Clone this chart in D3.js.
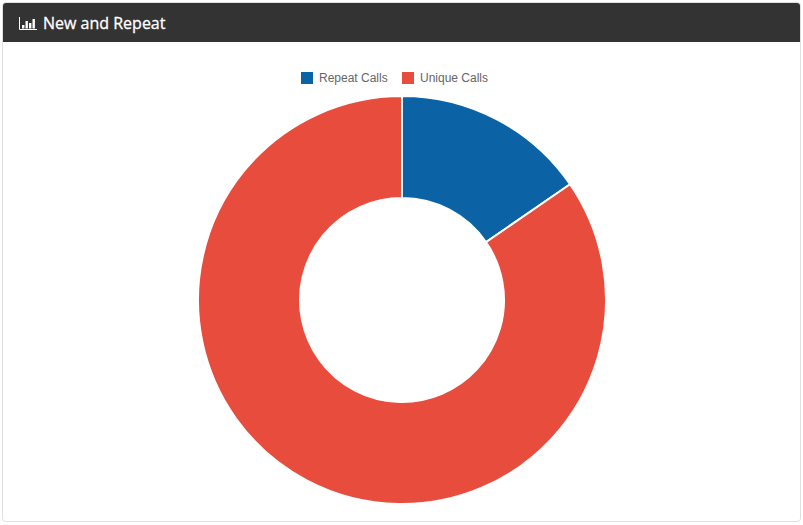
<!DOCTYPE html>
<html>
<head>
<meta charset="utf-8">
<script src="https://cdn.jsdelivr.net/npm/d3@7"></script>
<style>
  html, body { margin: 0; padding: 0; background: #fff; }
  svg { display: block; }
</style>
</head>
<body>
<svg id="chart" width="803" height="525"></svg>
<script>
const categories = ["Repeat Calls", "Unique Calls"];
const callCounts = [154, 846];
const sliceColors = ["#0b62a4", "#e84c3c"];
const panelTitle = "New and Repeat";

const svg = d3.select("#chart");

// Panel frame and dark heading
svg.append("rect").attr("x", 2.5).attr("y", 2.5).attr("width", 798).attr("height", 519)
  .attr("rx", 3).attr("fill", "#fff").attr("stroke", "#e0e0e0");
svg.append("path").attr("d", "M3 42V6a3 3 0 0 1 3-3H797a3 3 0 0 1 3 3V42Z").attr("fill", "#333333");

// Bar-chart glyph beside the heading
const glyph = svg.append("g").attr("fill", "#fff");
glyph.append("path").attr("d", "M19.5 17V29.5H37").attr("fill", "none").attr("stroke", "#fff");
[[22, 25, 3], [25.5, 21, 7], [29, 23, 5], [32.5, 19, 9]].forEach(([x, y, h]) =>
  glyph.append("rect").attr("x", x).attr("y", y).attr("width", 2.4).attr("height", h + 0.5));

svg.append("text").attr("x", 43).attr("y", 28.5).text(panelTitle)
  .attr("font-family", "'Open Sans', sans-serif").attr("font-size", 16).attr("font-weight", 400)
  .attr("fill", "#fff").attr("stroke", "#fff").attr("stroke-width", 0.3);

// Legend
const legendX = d3.scaleOrdinal().domain(categories).range([301, 402]);
const legend = svg.append("g").selectAll("g").data(categories).join("g")
  .attr("transform", d => `translate(${legendX(d)},72)`);
legend.append("rect").attr("width", 12).attr("height", 12)
  .attr("fill", (d, i) => sliceColors[i]);
legend.append("text").attr("x", 18).attr("y", 10).text(d => d)
  .attr("font-family", "'Liberation Sans', Arial, sans-serif").attr("font-size", 12)
  .attr("fill", "#666");

// Doughnut
const pie = d3.pie().sort(null);
const arc = d3.arc().innerRadius(102).outerRadius(204);
svg.append("g").attr("transform", "translate(402,300)")
  .selectAll("path").data(pie(callCounts)).join("path")
  .attr("d", arc)
  .attr("fill", (d, i) => sliceColors[i])
  .attr("stroke", "#fff").attr("stroke-width", 2);
</script>
</body>
</html>
